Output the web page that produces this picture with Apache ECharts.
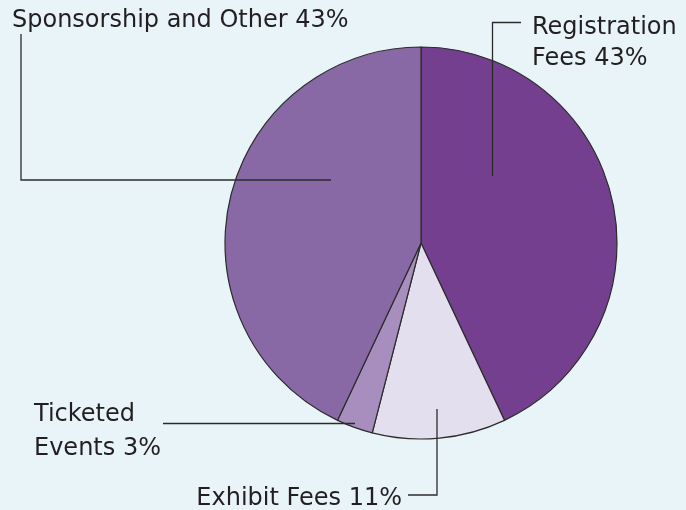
<!DOCTYPE html>
<html>
<head>
<meta charset="utf-8">
<script src="https://cdn.jsdelivr.net/npm/echarts@6/dist/echarts.min.js"></script>
<style>
html,body{margin:0;padding:0;background:#e9f4f9;}
#c{width:686px;height:510px;}
</style>
</head>
<body>
<div id="c"></div>
<script>
const categories = ["Registration Fees", "Exhibit Fees", "Ticketed Events", "Sponsorship and Other"];
const values = [43, 11, 3, 43];
const labelTexts = ["Registration\nFees 43%", "Exhibit Fees 11%", "Ticketed\nEvents 3%", "Sponsorship and Other 43%"];
const colors = ["#743f8f", "#e4dfee", "#a78ebe", "#8969a5"];

// label placement (layout only)
const labelPlace = [
  {x: 532, y: 12, align: 'left', lineHeight: 31, pts: [[492.5,176],[492.5,22.5],[521,22.5]]},
  {x: 402, y: 483, align: 'right', lineHeight: 31, pts: [[437,409],[437,495],[408,495]]},
  {x: 34, y: 398, align: 'left', lineHeight: 34, pts: [[355,423.5],[259,423.5],[163,423.5]]},
  {x: 12, y: 5, align: 'left', lineHeight: 31, pts: [[331,180],[21,180],[21,34]]}
];

const common = {
  type: 'pie',
  center: [421, 243],
  radius: 196,
  startAngle: 90,
  clockwise: true,
  silent: true
};

const chart = echarts.init(document.getElementById('c'), null, {renderer: 'canvas'});
chart.setOption({
  backgroundColor: '#e9f4f9',
  animation: false,
  series: [
    Object.assign({}, common, {
      z: 2,
      data: categories.map((c, i) => ({name: c, value: values[i], itemStyle: {color: colors[i]}})),
      itemStyle: {borderColor: '#2b2b2b', borderWidth: 1.2},
      label: {show: false},
      labelLine: {show: false}
    }),
    Object.assign({}, common, {
      z: 5,
      data: categories.map((c, i) => ({
        name: c,
        value: values[i],
        label: {lineHeight: labelPlace[i].lineHeight}
      })),
      itemStyle: {color: 'rgba(0,0,0,0)', borderWidth: 0},
      label: {
        show: true,
        position: 'outside',
        overflow: 'none',
        formatter: p => labelTexts[p.dataIndex],
        fontFamily: 'DejaVu Sans',
        fontSize: 24,
        color: '#231f20'
      },
      labelLine: {
        show: true,
        lineStyle: {color: '#2b2b2b', width: 1.3}
      },
      labelLayout: function (params) {
        const lp = labelPlace[params.dataIndex];
        return {
          x: lp.x,
          y: lp.y,
          width: 400,
          align: lp.align,
          verticalAlign: 'top',
          labelLinePoints: lp.pts
        };
      }
    })
  ]
});
</script>
</body>
</html>
